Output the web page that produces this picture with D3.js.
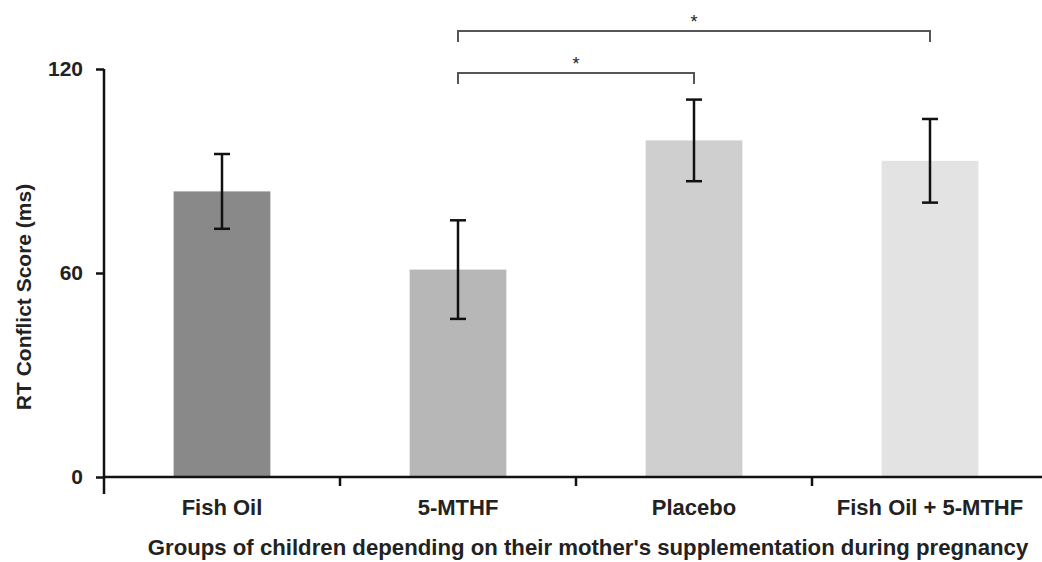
<!DOCTYPE html>
<html>
<head>
<meta charset="utf-8">
<script src="https://cdn.jsdelivr.net/npm/d3@7"></script>
<style>
  body { margin: 0; background: #fff; }
  text { font-family: "Liberation Sans", Arial, sans-serif; font-weight: bold; fill: #222; }
</style>
</head>
<body>
<script>
// chart data
var groups = ["Fish Oil", "5-MTHF", "Placebo", "Fish Oil + 5-MTHF"];
var means = [84, 61, 99, 93];
var errors = [11, 14.5, 12, 12.3];
var barColors = ["#898989", "#b7b7b7", "#cfcfcf", "#e3e3e3"];
var yTicks = [0, 60, 120];
// significant comparisons (from, to), lowest first
var sigPairs = [["5-MTHF", "Placebo"], ["5-MTHF", "Fish Oil + 5-MTHF"]];

var w = 1042, h = 562;

window.onload = function(){
  var svg = d3.select("body").append("svg")
    .attr("width", w)
    .attr("height", h);

  // scales
  var x = d3.scaleBand()
    .domain(groups)
    .range([104, 1048])
    .paddingInner(0.59)
    .paddingOuter(0.295);

  var y = d3.scaleLinear()
    .domain([0, 120])
    .range([477, 69]);

  // bars
  svg.selectAll(".bar")
    .data(groups)
    .enter()
    .append("rect")
    .attr("class", "bar")
    .attr("x", function(d){ return x(d); })
    .attr("width", x.bandwidth())
    .attr("y", function(d, i){ return y(means[i]); })
    .attr("height", function(d, i){ return y(0) - y(means[i]); })
    .style("fill", function(d, i){ return barColors[i]; });

  // error bars
  var eb = svg.selectAll(".err")
    .data(groups)
    .enter()
    .append("g")
    .attr("class", "err")
    .attr("transform", function(d){ return "translate(" + (x(d) + x.bandwidth() / 2) + ",0)"; })
    .style("stroke", "#111")
    .style("stroke-width", 2.5);
  eb.append("line")
    .attr("y1", function(d, i){ return y(means[i] + errors[i]); })
    .attr("y2", function(d, i){ return y(means[i] - errors[i]); });
  eb.append("line")
    .attr("x1", -8).attr("x2", 8)
    .attr("y1", function(d, i){ return y(means[i] + errors[i]); })
    .attr("y2", function(d, i){ return y(means[i] + errors[i]); });
  eb.append("line")
    .attr("x1", -8).attr("x2", 8)
    .attr("y1", function(d, i){ return y(means[i] - errors[i]); })
    .attr("y2", function(d, i){ return y(means[i] - errors[i]); });

  // y axis
  var yAxis = d3.axisLeft(y)
    .tickValues(yTicks)
    .tickSize(8)
    .tickSizeOuter(0)
    .tickPadding(13);
  var ya = svg.append("g")
    .attr("transform", "translate(104,0)")
    .call(yAxis);
  ya.select(".domain").remove();
  ya.append("line")
    .attr("y1", y(120)).attr("y2", y(0) + 17)
    .style("stroke", "#111").style("stroke-width", 2.5);
  ya.selectAll(".tick line").style("stroke", "#111").style("stroke-width", 2.5);
  ya.selectAll(".tick text")
    .style("font-size", "21px")
    .style("fill", "#222")
    .attr("font-family", null);

  // x axis: ticks at the group boundaries
  var gap = (x.step() - x.bandwidth()) / 2;
  var bounds = groups.slice(1).map(function(d){ return x(d) - gap; });
  var xa = svg.append("g");
  xa.append("line")
    .attr("x1", 104).attr("x2", w)
    .attr("y1", y(0)).attr("y2", y(0))
    .style("stroke", "#111").style("stroke-width", 2.5);
  xa.selectAll(".xtick")
    .data(bounds)
    .enter()
    .append("line")
    .attr("x1", function(d){ return d; })
    .attr("x2", function(d){ return d; })
    .attr("y1", y(0)).attr("y2", y(0) + 9)
    .style("stroke", "#111").style("stroke-width", 2.5);
  xa.selectAll(".xlab")
    .data(groups)
    .enter()
    .append("text")
    .attr("x", function(d){ return x(d) + x.bandwidth() / 2; })
    .attr("y", 515)
    .attr("text-anchor", "middle")
    .style("font-size", "22px")
    .text(function(d){ return d; });

  // axis titles
  svg.append("text")
    .attr("x", 588)
    .attr("y", 555)
    .attr("text-anchor", "middle")
    .style("font-size", "22.2px")
    .text("Groups of children depending on their mother's supplementation during pregnancy");

  svg.append("text")
    .attr("transform", "translate(31,297) rotate(-90)")
    .attr("text-anchor", "middle")
    .style("font-size", "21px")
    .text("RT Conflict Score (ms)");

  // significance brackets
  var levels = [y(0) - 404, y(0) - 446];
  var br = svg.selectAll(".sig")
    .data(sigPairs)
    .enter()
    .append("g")
    .attr("class", "sig");
  br.append("path")
    .attr("d", function(d, i){
      var x1 = x(d[0]) + x.bandwidth() / 2, x2 = x(d[1]) + x.bandwidth() / 2, yy = levels[i];
      return "M" + x1 + "," + (yy + 11) + "V" + yy + "H" + x2 + "V" + (yy + 11);
    })
    .style("fill", "none")
    .style("stroke", "#555")
    .style("stroke-width", 2);
  br.append("text")
    .attr("x", function(d){ return (x(d[0]) + x(d[1]) + x.bandwidth()) / 2; })
    .attr("y", function(d, i){ return levels[i] - 3; })
    .attr("text-anchor", "middle")
    .style("font-size", "18px")
    .style("font-weight", "normal")
    .text("*");
}
</script>
</body>
</html>
